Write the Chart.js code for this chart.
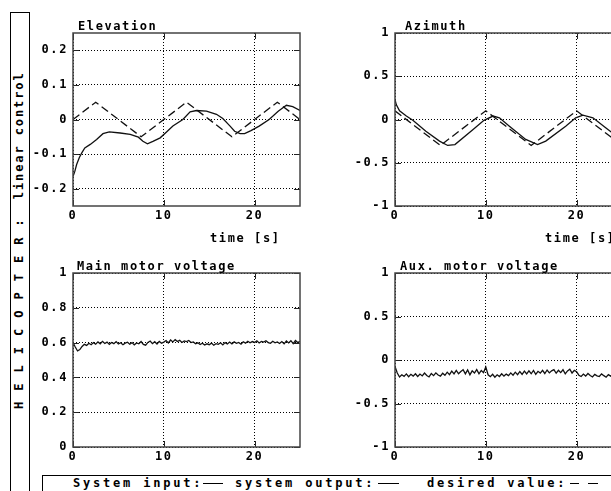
<!DOCTYPE html>
<html>
<head>
<meta charset="utf-8">
<script src="https://cdn.jsdelivr.net/npm/chart.js@4.4.0/dist/chart.umd.min.js"></script>
<style>
  html, body { margin: 0; padding: 0; background: #fff; width: 611px; height: 491px; overflow: hidden; }
  canvas { position: absolute; }
  .mono { font: bold 12px "DejaVu Sans Mono", monospace; letter-spacing: 1.6px; color: #000; white-space: pre; }
  #sideBox { position: absolute; left: 10px; top: 12px; width: 18px; height: 500px; border: 1px solid #000; }
  #sideText { position: absolute; left: 0; top: 0; line-height: 12px; letter-spacing: 1.9px; transform-origin: 0 0; transform: translate(13px, 409px) rotate(-90deg); }
  #legendBox { position: absolute; left: 42px; top: 475px; width: 620px; height: 40px; border: 1px solid #000; background: #fff; }
  .leg { position: absolute; top: 477px; line-height: 12px; letter-spacing: 2.8px; }
  .seg { position: absolute; top: 483px; height: 0; border-top: 1px solid #000; }
</style>
</head>
<body>
<canvas id="elev" width="290" height="250" style="left:30px;top:0px"></canvas>
<canvas id="azi" width="290" height="250" style="left:352px;top:0px"></canvas>
<canvas id="main" width="290" height="230" style="left:30px;top:245px"></canvas>
<canvas id="aux" width="290" height="230" style="left:352px;top:245px"></canvas>

<div id="sideBox"></div>
<div id="sideText" class="mono">H E L I C O P T E R :  linear control</div>

<div id="legendBox"></div>
<div class="leg mono" style="left:73px">System input:</div>
<div class="seg" style="left:203px;width:20px"></div>
<div class="leg mono" style="left:235px">system output:</div>
<div class="seg" style="left:378px;width:21px"></div>
<div class="leg mono" style="left:427px">desired value:</div>
<div class="seg" style="left:570px;width:9px"></div>
<div class="seg" style="left:588px;width:10px"></div>

<script>
// Eixo do tempo e marcas
const timeTicks = [0, 10, 20];
const elevTicks = [-0.2, -0.1, 0, 0.1, 0.2];
const aziTicks = [-1, -0.5, 0, 0.5, 1];
const mainTicks = [0, 0.2, 0.4, 0.6, 0.8, 1];
const auxTicks = [-1, -0.5, 0, 0.5, 1];

// Elevation: saída do sistema e valor desejado
const elevTime = [0, 0.2, 0.4, 0.7, 1.0, 1.3, 1.9, 2.6, 3.3, 4.0, 5.2, 6.3, 7.2, 7.7, 8.2, 8.8, 9.6, 10.3, 11.0, 12.1,
  12.9, 13.6, 14.7, 15.8, 16.5, 17.3, 17.8, 18.4, 18.9, 19.6, 20.5, 21.6, 22.6, 23.5, 24.2, 25];
const elevOutput = [-0.165, -0.15, -0.13, -0.11, -0.095, -0.082, -0.072, -0.058, -0.041, -0.036, -0.039, -0.043, -0.051, -0.063, -0.07, -0.063, -0.053, -0.036, -0.019, 0.0,
  0.022, 0.026, 0.024, 0.015, 0.003, -0.019, -0.034, -0.041, -0.041, -0.032, -0.019, 0.0, 0.024, 0.041, 0.037, 0.026];
const elevDesiredTime = [0, 2.5, 7.5, 12.5, 17.5, 22.5, 25];
const elevDesired = [0, 0.05, -0.05, 0.05, -0.05, 0.05, 0];

// Azimuth
const aziTime = [0, 0.15, 0.5, 1.25, 2.0, 3.4, 4.9, 5.8, 6.6, 8.6, 9.8, 10.8, 11.5, 12.6, 14.4, 15.7, 16.6, 18.8, 19.9, 20.7, 21.8, 23.2, 25];
const aziOutput = [0.23, 0.17, 0.1, 0.04, -0.012, -0.135, -0.25, -0.3, -0.29, -0.115, -0.01, 0.04, 0.02, -0.077, -0.23, -0.29, -0.25, -0.077, 0.02, 0.05, 0.02, -0.096, -0.24];
const aziDesiredTime = [0, 5, 10, 15, 20, 25];
const aziDesired = [0.1, -0.3, 0.1, -0.3, 0.1, -0.3];

// Tensões dos motores (entrada do sistema)
const motorTime = [
  0, 0.25, 0.5, 0.75, 1, 1.25, 1.5, 1.75, 2, 2.25,
  2.5, 2.75, 3, 3.25, 3.5, 3.75, 4, 4.25, 4.5, 4.75,
  5, 5.25, 5.5, 5.75, 6, 6.25, 6.5, 6.75, 7, 7.25,
  7.5, 7.75, 8, 8.25, 8.5, 8.75, 9, 9.25, 9.5, 9.75,
  10, 10.25, 10.5, 10.75, 11, 11.25, 11.5, 11.75, 12, 12.25,
  12.5, 12.75, 13, 13.25, 13.5, 13.75, 14, 14.25, 14.5, 14.75,
  15, 15.25, 15.5, 15.75, 16, 16.25, 16.5, 16.75, 17, 17.25,
  17.5, 17.75, 18, 18.25, 18.5, 18.75, 19, 19.25, 19.5, 19.75,
  20, 20.25, 20.5, 20.75, 21, 21.25, 21.5, 21.75, 22, 22.25,
  22.5, 22.75, 23, 23.25, 23.5, 23.75, 24, 24.25, 24.5, 24.75,
  25];
const mainVoltage = [
  0.600, 0.575, 0.552, 0.560, 0.578, 0.590, 0.584, 0.596, 0.588, 0.600,
  0.591, 0.604, 0.593, 0.607, 0.595, 0.603, 0.590, 0.601, 0.594, 0.606,
  0.592, 0.599, 0.588, 0.597, 0.602, 0.591, 0.600, 0.587, 0.598, 0.593,
  0.606, 0.590, 0.585, 0.601, 0.609, 0.594, 0.605, 0.592, 0.607, 0.596,
  0.603, 0.612, 0.598, 0.615, 0.604, 0.617, 0.606, 0.613, 0.601, 0.610,
  0.606, 0.612, 0.600, 0.604, 0.594, 0.599, 0.589, 0.596, 0.586, 0.593,
  0.588, 0.597, 0.585, 0.594, 0.590, 0.599, 0.587, 0.600, 0.592, 0.603,
  0.593, 0.604, 0.596, 0.601, 0.591, 0.605, 0.597, 0.608, 0.599, 0.606,
  0.601, 0.610, 0.598, 0.607, 0.603, 0.611, 0.600, 0.596, 0.608, 0.599,
  0.604, 0.595, 0.606, 0.593, 0.609, 0.598, 0.611, 0.594, 0.612, 0.600,
  0.607];
const auxVoltage = [
  -0.075, -0.150, -0.195, -0.170, -0.188, -0.160, -0.192, -0.165, -0.185, -0.158,
  -0.190, -0.162, -0.183, -0.150, -0.178, -0.195, -0.155, -0.180, -0.148, -0.172,
  -0.185, -0.152, -0.176, -0.140, -0.168, -0.128, -0.160, -0.120, -0.158, -0.132,
  -0.112, -0.160, -0.115, -0.170, -0.125, -0.150, -0.110, -0.158, -0.120, -0.145,
  -0.080, -0.170, -0.192, -0.165, -0.198, -0.170, -0.190, -0.158, -0.185, -0.162,
  -0.180, -0.148, -0.175, -0.140, -0.168, -0.132, -0.165, -0.128, -0.160, -0.125,
  -0.158, -0.120, -0.165, -0.130, -0.150, -0.118, -0.155, -0.115, -0.148, -0.125,
  -0.110, -0.152, -0.118, -0.145, -0.112, -0.160, -0.125, -0.105, -0.150, -0.120,
  -0.135, -0.175, -0.190, -0.162, -0.185, -0.155, -0.178, -0.195, -0.165, -0.182,
  -0.190, -0.160, -0.180, -0.198, -0.168, -0.185, -0.160, -0.190, -0.172, -0.195,
  -0.180];

const FONT = { family: '"DejaVu Sans Mono", monospace', size: 12, weight: 'bold' };
const FONT_CSS = 'bold 12px "DejaVu Sans Mono", monospace';
const SPACING = '1.6px';

// Moldura, marcas internas e títulos desenhados sobre o gráfico
const framePlugin = {
  id: 'frame',
  beforeLayout(chart) { chart.ctx.letterSpacing = SPACING; },
  beforeDraw(chart) { chart.ctx.letterSpacing = SPACING; },
  afterDraw(chart, args, opts) {
    const ctx = chart.ctx;
    const a = chart.chartArea;
    const x = chart.scales.x, y = chart.scales.y;
    ctx.save();
    ctx.setLineDash([]);
    ctx.strokeStyle = '#222';
    ctx.lineWidth = 1;
    ctx.beginPath();
    x.ticks.forEach(t => {
      const px = Math.round(x.getPixelForValue(t.value)) + 0.5;
      ctx.moveTo(px, a.bottom); ctx.lineTo(px, a.bottom - 6);
      ctx.moveTo(px, a.top); ctx.lineTo(px, a.top + 6);
    });
    y.ticks.forEach(t => {
      const py = Math.round(y.getPixelForValue(t.value)) + 0.5;
      ctx.moveTo(a.left, py); ctx.lineTo(a.left + 6, py);
      ctx.moveTo(a.right, py); ctx.lineTo(a.right - 6, py);
    });
    ctx.stroke();
    ctx.strokeStyle = '#444';
    ctx.lineWidth = 1.5;
    ctx.strokeRect(a.left, a.top, a.right - a.left, a.bottom - a.top);
    ctx.fillStyle = '#000';
    ctx.font = FONT_CSS;
    ctx.letterSpacing = SPACING;
    ctx.textAlign = 'left';
    ctx.textBaseline = 'alphabetic';
    ctx.fillText(opts.title, a.left + opts.titleDx, a.top - 3);
    if (opts.xTitle) {
      ctx.textBaseline = 'middle';
      ctx.fillText(opts.xTitle, a.left + opts.xTitleDx, a.bottom + 33);
    }
    ctx.restore();
  }
};

function panel(id, p) {
  return new Chart(document.getElementById(id), {
    type: 'line',
    data: {
      datasets: p.series.map(s => ({
        data: s.t.map((t, i) => ({ x: t, y: s.v[i] })),
        borderColor: '#111',
        borderWidth: 1.3,
        borderDash: s.dashed ? [8, 4] : [],
        pointRadius: 0,
        tension: 0,
        fill: false
      }))
    },
    options: {
      responsive: false,
      animation: false,
      devicePixelRatio: 1,
      layout: { padding: { top: p.padTop, right: 20, left: 0, bottom: 0 } },
      plugins: {
        legend: { display: false },
        tooltip: { enabled: false },
        frame: { title: p.title, titleDx: p.titleDx, xTitle: p.xTitle, xTitleDx: p.xTitleDx }
      },
      scales: {
        x: {
          type: 'linear', min: 0, max: 25,
          afterBuildTicks: sc => { sc.ticks = timeTicks.map(v => ({ value: v })); },
          afterFit: sc => { sc.height = p.xHeight; },
          grid: { color: '#000', lineWidth: 1, drawTicks: false },
          border: { display: false, dash: [1, 2] },
          ticks: { color: '#000', font: FONT, padding: 3, maxRotation: 0, autoSkip: false, callback: v => String(v) }
        },
        y: {
          type: 'linear', min: p.yMin, max: p.yMax,
          afterBuildTicks: sc => { sc.ticks = p.yTicks.map(v => ({ value: v })); },
          afterFit: sc => { sc.width = 43; },
          grid: { color: '#000', lineWidth: 1, drawTicks: false },
          border: { display: false, dash: [1, 2] },
          ticks: { color: '#000', font: FONT, padding: 5, autoSkip: false, callback: v => String(v) }
        }
      }
    },
    plugins: [framePlugin]
  });
}

panel('elev', {
  title: 'Elevation', titleDx: 5, xTitle: 'time [s]', xTitleDx: 137,
  padTop: 33, xHeight: 44, yMin: -0.25, yMax: 0.25, yTicks: elevTicks,
  series: [{ t: elevTime, v: elevOutput }, { t: elevDesiredTime, v: elevDesired, dashed: true }]
});

panel('azi', {
  title: 'Azimuth', titleDx: 10, xTitle: 'time [s]', xTitleDx: 150,
  padTop: 33, xHeight: 44, yMin: -1, yMax: 1, yTicks: aziTicks,
  series: [{ t: aziTime, v: aziOutput }, { t: aziDesiredTime, v: aziDesired, dashed: true }]
});

panel('main', {
  title: 'Main motor voltage', titleDx: 4,
  padTop: 28, xHeight: 28, yMin: 0, yMax: 1, yTicks: mainTicks,
  series: [{ t: motorTime, v: mainVoltage }]
});

panel('aux', {
  title: 'Aux. motor voltage', titleDx: 5,
  padTop: 28, xHeight: 28, yMin: -1, yMax: 1, yTicks: auxTicks,
  series: [{ t: motorTime, v: auxVoltage }]
});
</script>
</body>
</html>
